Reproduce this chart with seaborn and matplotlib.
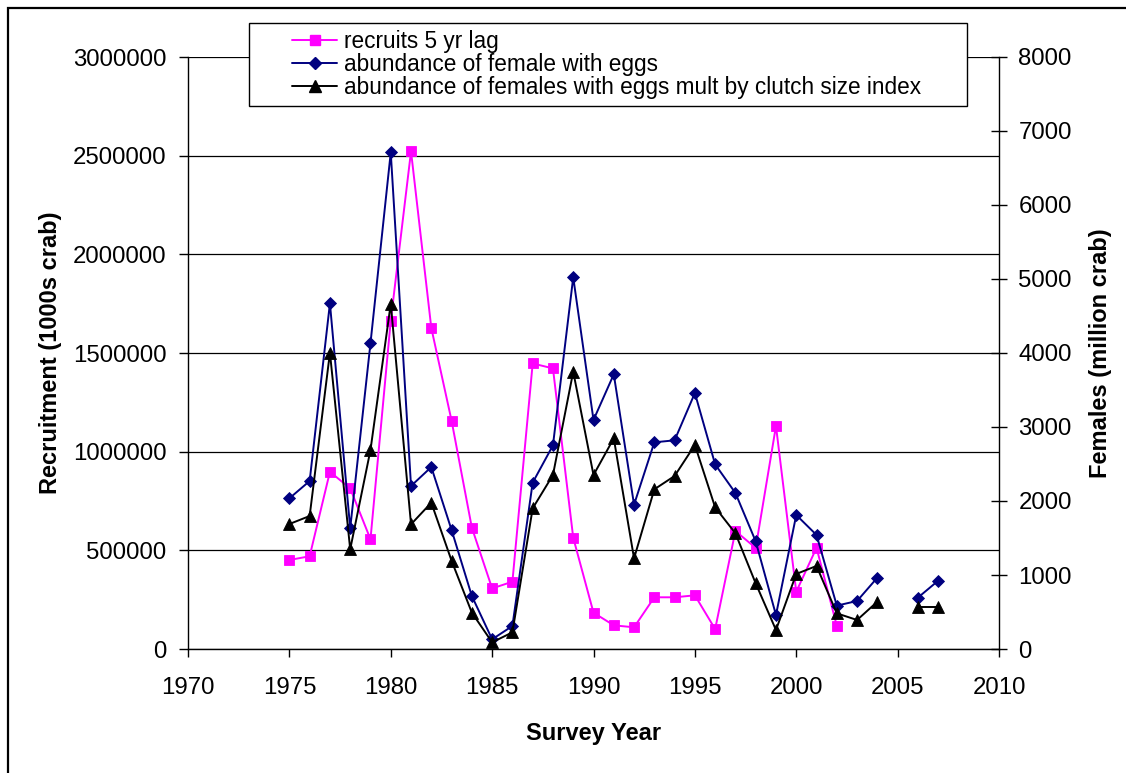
import numpy as np
import pandas as pd
import matplotlib
matplotlib.use("Agg")
import matplotlib.pyplot as plt
from matplotlib.lines import Line2D
from matplotlib.legend_handler import HandlerLine2D
from matplotlib.patches import Rectangle
import seaborn as sns

nan = np.nan

# Survey years
years = list(range(1975, 2008))

# Recruitment, 1000s of crab (left axis), lagged 5 years
recruits_5yr_lag = [451000, 470000, 898000, 814000, 556000, 1664000, 2522000,
                    1627000, 1157000, 615000, 307000, 341000, 1447000, 1422000,
                    564000, 184000, 120000, 110000, 262000, 262000, 272000,
                    101000, 598000, 512000, 1130000, 290000, 513000, 118000,
                    nan, nan, nan, nan, nan]

# Females with eggs, million crab (right axis)
females_with_eggs = [2036, 2270, 4671, 1631, 4131, 6710, 2203, 2459, 1608, 716,
                     131, 311, 2248, 2752, 5023, 3095, 3712, 1950, 2793, 2820,
                     3459, 2495, 2108, 1455, 459, 1811, 1541, 586, 649, 964,
                     nan, 694, 923]

# Females with eggs multiplied by clutch size index (right axis)
females_clutch_index = [1689, 1797, 4004, 1347, 2689, 4665, 1685, 1977, 1193,
                        491, 90, 225, 1901, 2351, 3748, 2351, 2847, 1225, 2158,
                        2338, 2757, 1914, 1563, 887, 257, 1014, 1122, 482, 392,
                        639, nan, 572, 572]

series_labels = ["recruits 5 yr lag",
                 "abundance of female with eggs",
                 "abundance of females with eggs mult by clutch size index"]

x_ticks = [1970, 1975, 1980, 1985, 1990, 1995, 2000, 2005, 2010]
left_ticks = [0, 500000, 1000000, 1500000, 2000000, 2500000, 3000000]
right_ticks = [0, 1000, 2000, 3000, 4000, 5000, 6000, 7000, 8000]

sns.set_theme(style="ticks")
plt.rcParams['font.family'] = ['Liberation Sans', 'DejaVu Sans']
plt.rcParams['axes.edgecolor'] = 'black'
plt.rcParams['axes.labelcolor'] = 'black'
plt.rcParams['text.color'] = 'black'
plt.rcParams['xtick.color'] = 'black'
plt.rcParams['ytick.color'] = 'black'

W, H = 1126, 773
fig = plt.figure(figsize=(W / 100, H / 100), dpi=100)
fig.patch.set_facecolor('white')

L, R, T, B = 188, 999, 57, 649
ax = fig.add_axes([L / W, 1 - B / H, (R - L) / W, (B - T) / H])
ax2 = ax.twinx()
ax2.patch.set_visible(False)

LW = 1.4
styles = [
    (ax, recruits_5yr_lag, '#FF00FF', 's', 7.0),
    (ax2, females_with_eggs, '#000080', 'D', 6.2),
    (ax2, females_clutch_index, '#000000', '^', 8.2),
]

for axis, values, color, marker, ms in styles:
    df = pd.DataFrame({"year": years, "value": values})
    # break the line where a year is missing
    df["segment"] = df["value"].isna().cumsum()
    df = df.dropna()
    sns.lineplot(data=df, x="year", y="value", units="segment", estimator=None,
                 sort=False, ax=axis, color=color, marker=marker, markersize=ms,
                 markeredgecolor=color, markeredgewidth=0.6, linewidth=LW,
                 legend=False)

FS = 17.3
LFS = 16.3

# left axis
ax.set_xlim(1970, 2010)
ax.set_ylim(0, 3000000)
ax.set_xticks(x_ticks)
ax.set_xticklabels([str(v) for v in x_ticks])
ax.set_yticks(left_ticks)
ax.set_yticklabels([str(v) for v in left_ticks])
ax.tick_params(axis='y', direction='out', length=6.5, width=1, pad=9,
               labelsize=FS, colors='black')
ax.tick_params(axis='x', direction='out', length=6, width=1, pad=14.5,
               labelsize=FS, colors='black')
ax.yaxis.grid(True, color='black', linewidth=0.9)
ax.xaxis.grid(False)
ax.spines['top'].set_visible(False)
ax.spines['right'].set_visible(False)
for s in ('left', 'bottom'):
    ax.spines[s].set_linewidth(1.0)
    ax.spines[s].set_color('black')

# right axis
ax2.set_ylim(0, 8000)
ax2.set_yticks(right_ticks)
ax2.set_yticklabels([str(v) for v in right_ticks])
ax2.tick_params(axis='y', direction='inout', length=12, width=1, pad=8,
                labelsize=FS, colors='black')
for s in ('left', 'top', 'bottom'):
    ax2.spines[s].set_visible(False)
ax2.spines['right'].set_linewidth(1.0)
ax2.spines['right'].set_color('black')

ax.set_xlabel("Survey Year", fontsize=17, fontweight='bold')
ax.xaxis.set_label_coords(0.5, (B - 722) / (B - T))
ax.set_ylabel("Recruitment (1000s crab)", fontsize=17, fontweight='bold')
ax.yaxis.set_label_coords((62 - L) / (R - L), 0.5)
ax2.set_ylabel("Females (million crab)", fontsize=17, fontweight='bold')
ax2.yaxis.set_label_coords((1089 - L) / (R - L), 0.5)

# legend
handles = [Line2D([], [], color=c, marker=m, markersize=ms,
                  markeredgecolor=c, linewidth=LW)
           for _, _, c, m, ms in styles]
lx0, lx1, ly0, ly1 = 249, 967, 23, 103
leg = fig.legend(handles, series_labels, loc='upper left',
                 bbox_to_anchor=(lx0 / W, 1 - ly1 / H, (lx1 - lx0) / W, (ly1 - ly0) / H),
                 mode='expand', borderaxespad=0, frameon=True, fancybox=False,
                 edgecolor='black', framealpha=1, fontsize=LFS,
                 handlelength=3.6, handletextpad=0.3, labelspacing=0.0,
                 borderpad=0.3, numpoints=1,
                 handler_map={Line2D: HandlerLine2D(xpad=1.62)})
leg.get_frame().set_linewidth(1.0)

# outer chart border
fig.patches.append(Rectangle((8 / W, -0.05), 1.2, 1 - 8 / H + 0.05,
                             transform=fig.transFigure, fill=False,
                             edgecolor='black', linewidth=1.6))

fig.savefig("out.png", dpi=100)
